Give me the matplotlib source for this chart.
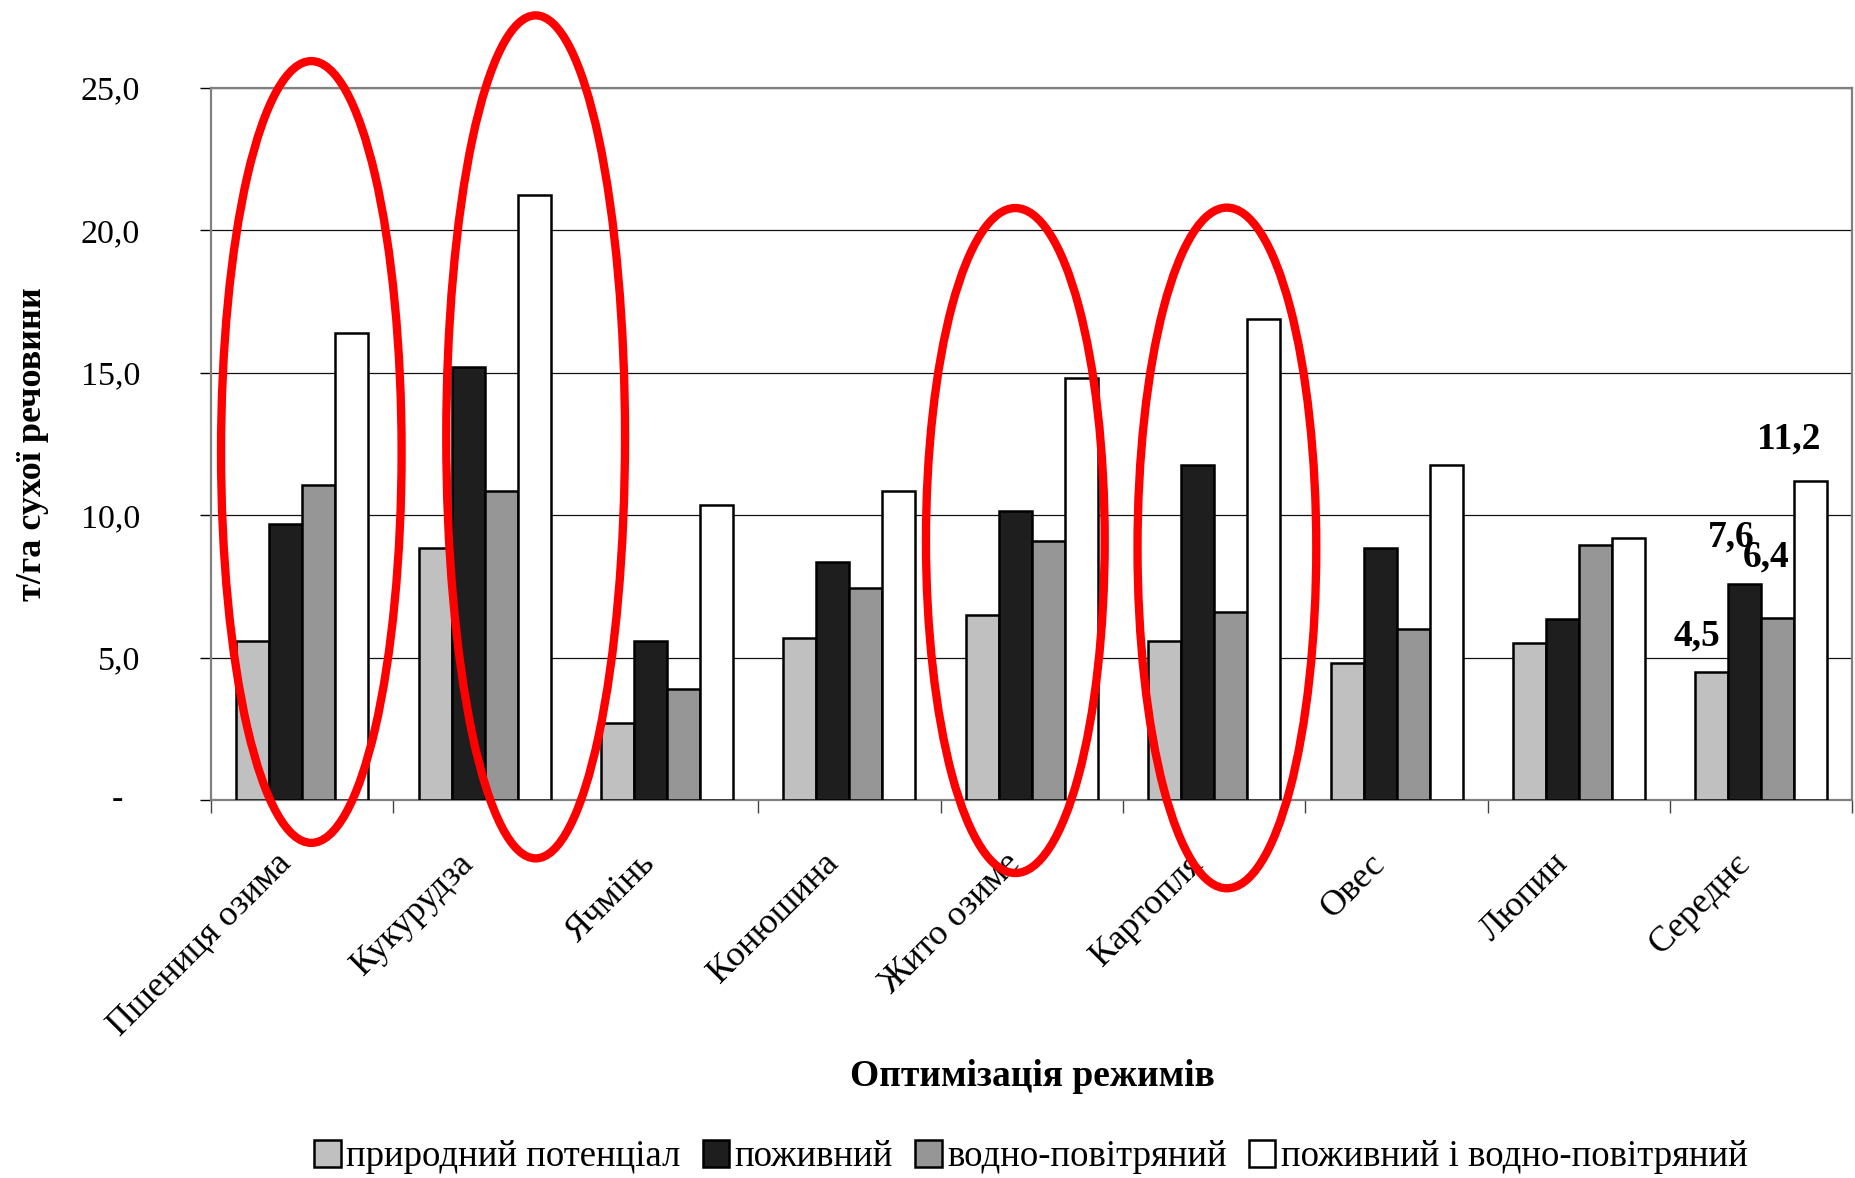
import numpy as np
import matplotlib
matplotlib.use("Agg")
import matplotlib.pyplot as plt
from matplotlib.patches import Ellipse, Patch

plt.rcParams['font.family'] = ['Liberation Serif', 'DejaVu Serif']

# Crops and the average
categories = ["Пшениця озима", "Кукурудза", "Ячмінь", "Конюшина", "Жито озиме",
              "Картопля", "Овес", "Люпин", "Середнє"]

# Yield, t/ha of dry matter, for each optimisation regime
natural = [5.6, 8.85, 2.7, 5.7, 6.5, 5.6, 4.8, 5.5, 4.5]
nutrient = [9.7, 15.2, 5.6, 8.35, 10.15, 11.75, 8.85, 6.35, 7.6]
water_air = [11.05, 10.85, 3.9, 7.45, 9.1, 6.6, 6.0, 8.95, 6.4]
nutrient_water_air = [16.4, 21.25, 10.35, 10.85, 14.8, 16.9, 11.75, 9.2, 11.2]

series_names = ["природний потенціал", "поживний", "водно-повітряний",
                "поживний і водно-повітряний"]
series_colors = ["#c0c0c0", "#1e1e1e", "#969696", "#ffffff"]

y_ticks = [0, 5, 10, 15, 20, 25]
y_tick_labels = ["", "5,0", "10,0", "15,0", "20,0", "25,0"]

# Highlighted crop groups: (centre x, centre y, width, height) in data units
highlights = [(0.05, 12.22, 0.99, 27.45),
              (1.28, 12.75, 0.98, 29.6),
              (3.91, 9.11, 0.98, 23.35),
              (5.07, 8.85, 0.98, 23.9)]

# Offsets (points) of the value labels above the "Середнє" bars
avg_label_offsets = [(-10.8, 25.7), (-9.4, 33.8), (-8.6, 43.6), (-15.8, 30.0)]

W, H = 1856, 1178
fig = plt.figure(figsize=(W / 100, H / 100), dpi=100)
ax = fig.add_axes([211 / W, 1 - 800 / H, (1852.5 - 211) / W, (800 - 88) / H])

x = np.arange(len(categories))
bw = 0.181
all_series = [natural, nutrient, water_air, nutrient_water_air]
for k, (vals, col) in enumerate(zip(all_series, series_colors)):
    ax.bar(x + (k - 1.5) * bw, vals, width=bw, color=col,
           edgecolor="black", linewidth=1.8, zorder=3)

ax.set_xlim(-0.5, len(categories) - 0.5)
ax.set_ylim(0, 25)
ax.set_axisbelow(True)

# Horizontal gridlines
ax.set_yticks(y_ticks)
ax.set_yticklabels(y_tick_labels, fontsize=24.5)
ax.yaxis.grid(True, color="#111111", linewidth=0.9)
ax.tick_params(axis="y", direction="out", length=8, width=1.0, color="black", pad=43)
ax.annotate("-", xy=(0, 0), xycoords=("axes fraction", "data"),
            xytext=(-63, 0), textcoords="offset points",
            ha="right", va="center", fontsize=24.5)

# Category boundaries as tick marks on the x axis
ax.set_xticks(np.arange(-0.5, len(categories), 1.0))
ax.set_xticklabels([])
ax.tick_params(axis="x", direction="out", length=9.5, width=1.0, color="#444444")
for i, name in enumerate(categories):
    ax.annotate(name, xy=(i, 0), xycoords=("data", "axes fraction"),
                xytext=(-20, -34), textcoords="offset points",
                rotation=45, rotation_mode="anchor", ha="right", va="top",
                fontsize=26)

for side in ["left", "right", "top", "bottom"]:
    ax.spines[side].set_color("#808080")
    ax.spines[side].set_linewidth(1.6)

# Value labels for the average group
last = len(categories) - 1
for k, vals in enumerate(all_series):
    xb = x[last] + (k - 1.5) * bw
    dx, dy = avg_label_offsets[k]
    ax.annotate(f"{vals[last]:.1f}".replace(".", ","), xy=(xb, vals[last]),
                xytext=(dx, dy), textcoords="offset points",
                ha="center", va="center", fontsize=27, fontweight="bold",
                zorder=6, annotation_clip=False)

# Red highlight ellipses
for cx, cy, ew, eh in highlights:
    ax.add_patch(Ellipse((cx, cy), ew, eh, fill=False, edgecolor="#ff0000",
                         linewidth=6, zorder=10, clip_on=False))

fig.text(33 / W, 1 - 444 / H, "т/га сухої речовини", rotation=90,
         ha="center", va="center", fontsize=26, fontweight="bold")
fig.text(1032 / W, 1 - 1077 / H, "Оптимізація режимів",
         ha="center", va="center", fontsize=27, fontweight="bold")

handles = [Patch(facecolor=c, edgecolor="black", linewidth=1.8) for c in series_colors]
fig.legend(handles, series_names, loc="center", bbox_to_anchor=(1031 / W, 1 - 1157 / H),
           ncol=4, frameon=False, fontsize=26.5, handlelength=0.72, handleheight=0.72,
           handletextpad=0.15, columnspacing=0.6, borderpad=0)

fig.savefig("out.png", dpi=100)
